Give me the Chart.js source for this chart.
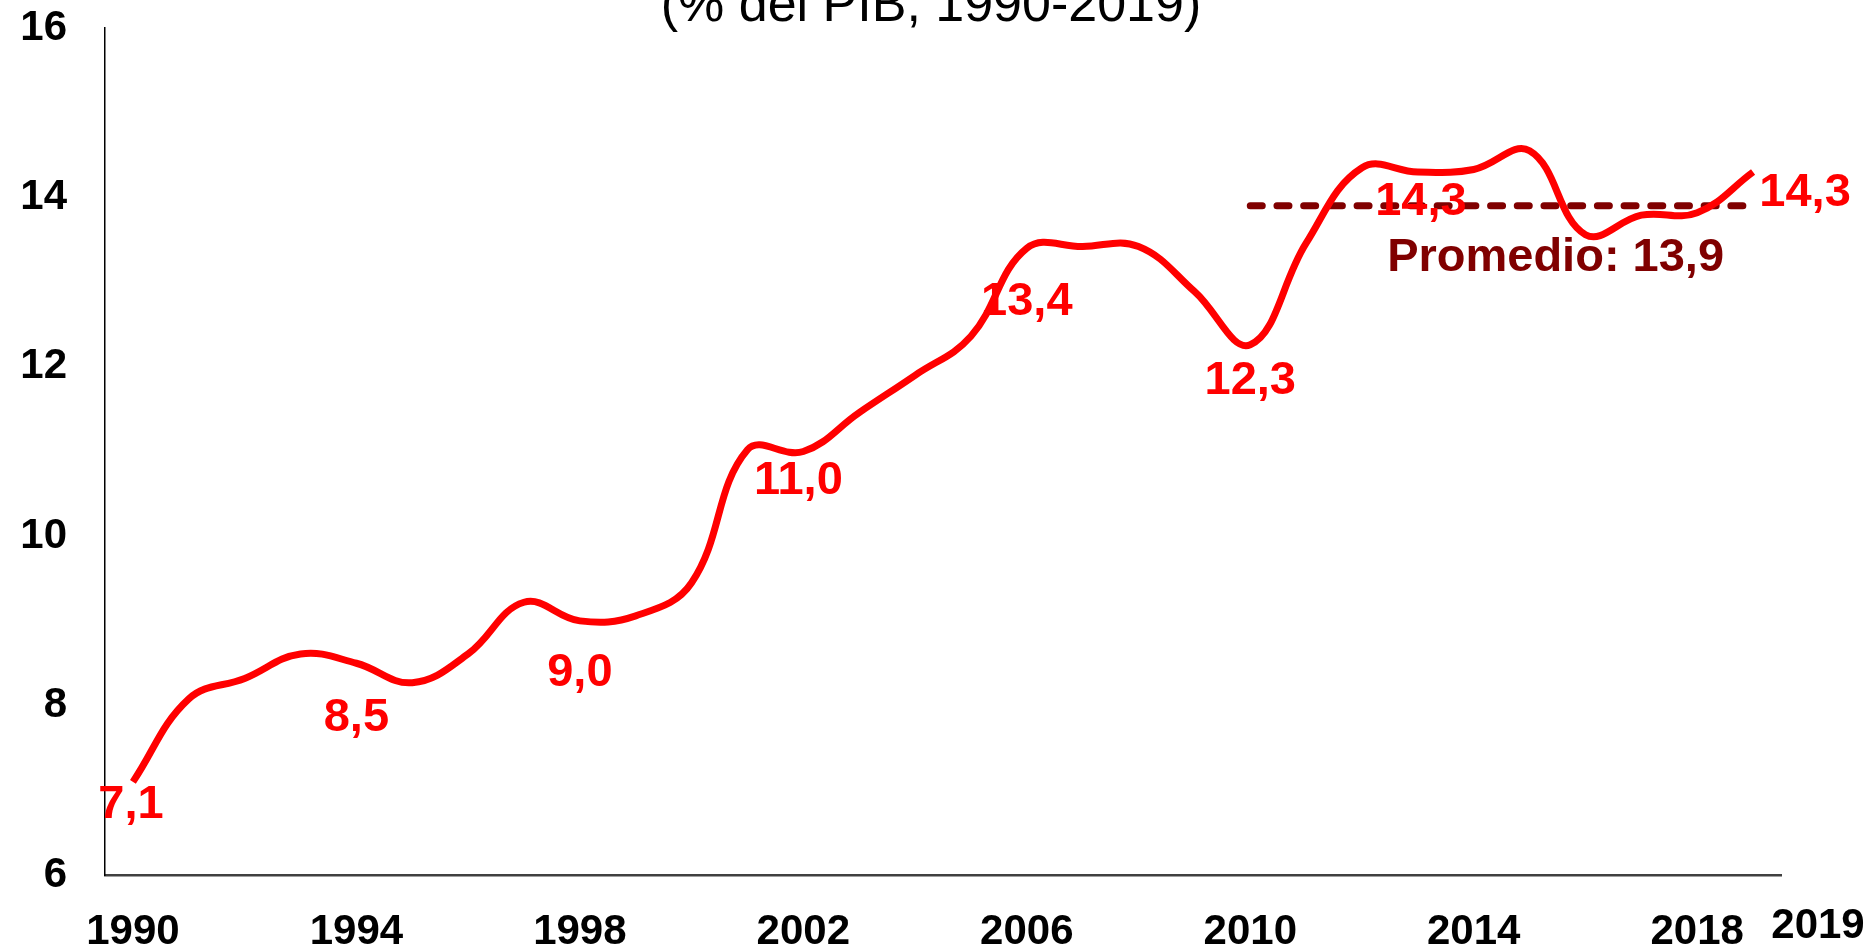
<!DOCTYPE html>
<html>
<head>
<meta charset="utf-8">
<script src="https://cdn.jsdelivr.net/npm/chart.js@4"></script>
<style>
	html, body { margin: 0; padding: 0; background: #fff; overflow: hidden; }
	#wrap { width: 1872px; height: 944px; position: relative; }
</style>
</head>
<body>
<div id="wrap"><canvas id="taxChart"></canvas></div>
<script>
const years = [
	"1990", "1991", "1992", "1993", "1994", "1995", "1996", "1997", "1998", "1999",
	"2000", "2001", "2002", "2003", "2004", "2005", "2006", "2007", "2008", "2009",
	"2010", "2011", "2012", "2013", "2014", "2015", "2016", "2017", "2018", "2019",
];
const recaudacion = [
	7.1, 8.08, 8.32, 8.61, 8.5, 8.27, 8.61, 9.22, 9.0, 9.06,
	9.45, 11.02, 11.0, 11.46, 11.9, 12.36, 13.4, 13.42, 13.42, 12.89,
	12.26, 13.46, 14.35, 14.3, 14.33, 14.55, 13.56, 13.79, 13.82, 14.3,
];
const promedioDesde = "2010";
const promedioValor = 13.9;
const aniosEtiquetados = ["1990", "1994", "1998", "2002", "2006", "2010", "2013", "2019"];
const yTicks = [6, 8, 10, 12, 14, 16];
const titulo = "(% del PIB, 1990-2019)";

// label placement (pixels from the point), same order as aniosEtiquetados
const labelOffsets = [
	[-2, 23], [0, 55], [0, 52], [-5, 30], [0, 54], [0, 36], [3, 30], [52, 21],
];

const red = "#ff0000";
const darkRed = "#800000";
const fontFamily = "'Liberation Sans', Arial, sans-serif";

const promedioSerie = years.map((y) =>
	Number(y) >= Number(promedioDesde) ? promedioValor : null,
);
const fmt = (v) => v.toFixed(1).replace(".", ",");

const annotationsPlugin = {
	id: "annotations",
	afterDraw(chart) {
		const ctx = chart.ctx;
		const xScale = chart.scales.x;
		const yScale = chart.scales.y;
		const meta = chart.getDatasetMeta(0);

		ctx.save();
		// title, partly cut at the top as in the original
		ctx.font = `52px ${fontFamily}`;
		ctx.fillStyle = "#000";
		ctx.textAlign = "center";
		ctx.textBaseline = "alphabetic";
		ctx.fillText(titulo, chart.width / 2 - 5, 21);

		// data labels
		ctx.font = `bold 47px ${fontFamily}`;
		ctx.fillStyle = red;
		ctx.textBaseline = "middle";
		aniosEtiquetados.forEach((year, k) => {
			const i = years.indexOf(year);
			const pt = meta.data[i];
			ctx.fillText(fmt(recaudacion[i]), pt.x + labelOffsets[k][0], pt.y + labelOffsets[k][1]);
		});

		// average label
		ctx.fillStyle = darkRed;
		ctx.fillText(
			`Promedio: ${fmt(promedioValor)}`,
			xScale.getPixelForValue(years.indexOf("2015")) + 26,
			yScale.getPixelForValue(promedioValor) + 52,
		);

		// last year label, outside the axis
		ctx.font = `bold 42px ${fontFamily}`;
		ctx.fillStyle = "#000";
		ctx.fillText(years[years.length - 1], xScale.right + 37, xScale.top + 51);
		ctx.restore();
	},
};

const tickFont = { family: fontFamily, size: 42, weight: "bold" };

new Chart(document.getElementById("taxChart"), {
	type: "line",
	data: {
		labels: years,
		datasets: [
			{
				data: recaudacion,
				borderColor: red,
				borderWidth: 7,
				tension: 0.4,
				pointRadius: 0,
				fill: false,
			},
			{
				data: promedioSerie,
				borderColor: darkRed,
				borderWidth: 7,
				borderDash: [12, 14.7],
				borderCapStyle: "round",
				pointRadius: 0,
				tension: 0,
				fill: false,
			},
		],
	},
	options: {
		responsive: true,
		maintainAspectRatio: false,
		animation: false,
		layout: { padding: { top: 28, right: 91, left: 0, bottom: 0 } },
		plugins: {
			legend: { display: false },
			tooltip: { enabled: false },
			title: { display: false },
		},
		scales: {
			x: {
				type: "category",
				offset: true,
				grid: { display: false, drawTicks: false },
				border: { display: true, color: "#404040", width: 2.5 },
				ticks: {
					autoSkip: false,
					maxRotation: 0,
					minRotation: 0,
					padding: 32,
					color: "#000",
					font: tickFont,
					callback: (v, i) => (i % 4 === 0 ? years[i] : ""),
				},
				afterFit: (s) => { s.height = 69; },
			},
			y: {
				min: yTicks[0],
				max: yTicks[yTicks.length - 1],
				grid: { display: false, drawTicks: false },
				border: { display: true, color: "#000", width: 1.5 },
				ticks: {
					stepSize: 2,
					padding: 38,
					color: "#000",
					font: tickFont,
				},
				afterFit: (s) => {
					s.width = 105;
					s.paddingTop = 0;
					s.paddingBottom = 0;
				},
			},
		},
	},
	plugins: [annotationsPlugin],
});
</script>
</body>
</html>
